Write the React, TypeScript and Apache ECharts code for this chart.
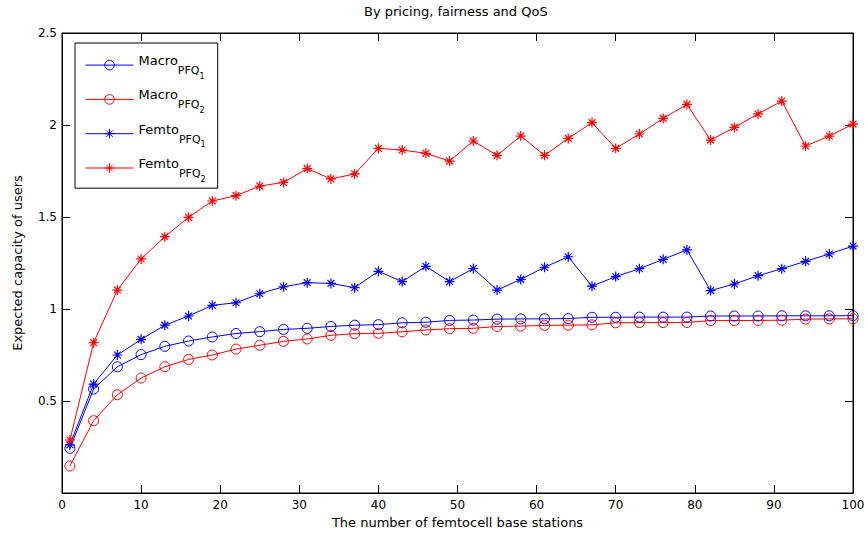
import React, { useEffect, useRef } from 'react';
import * as echarts from 'echarts';

const xValues = [1, 4, 7, 10, 13, 16, 19, 22, 25, 28, 31, 34, 37, 40, 43, 46, 49, 52, 55, 58, 61, 64, 67, 70, 73, 76, 79, 82, 85, 88, 91, 94, 97, 100];

const macroPFQ1 = [0.243, 0.565, 0.686, 0.752, 0.797, 0.826, 0.848, 0.867, 0.877, 0.889, 0.895, 0.905, 0.912, 0.915, 0.925, 0.928, 0.938, 0.94, 0.945, 0.946, 0.947, 0.948, 0.955, 0.955, 0.956, 0.956, 0.956, 0.962, 0.962, 0.962, 0.963, 0.963, 0.963, 0.964];
const macroPFQ2 = [0.147, 0.393, 0.534, 0.625, 0.686, 0.726, 0.75, 0.782, 0.803, 0.824, 0.837, 0.857, 0.866, 0.868, 0.876, 0.886, 0.893, 0.895, 0.905, 0.907, 0.911, 0.912, 0.914, 0.925, 0.926, 0.926, 0.927, 0.937, 0.937, 0.938, 0.939, 0.945, 0.946, 0.947];
const femtoPFQ1 = [0.262, 0.592, 0.75, 0.835, 0.912, 0.962, 1.02, 1.034, 1.083, 1.121, 1.143, 1.139, 1.116, 1.205, 1.149, 1.232, 1.149, 1.22, 1.103, 1.161, 1.227, 1.284, 1.124, 1.176, 1.219, 1.27, 1.321, 1.1, 1.136, 1.181, 1.219, 1.259, 1.299, 1.342];
const femtoPFQ2 = [0.288, 0.817, 1.103, 1.272, 1.393, 1.498, 1.587, 1.616, 1.668, 1.688, 1.763, 1.707, 1.734, 1.873, 1.864, 1.846, 1.804, 1.913, 1.835, 1.94, 1.835, 1.927, 2.013, 1.873, 1.951, 2.036, 2.112, 1.918, 1.987, 2.06, 2.13, 1.886, 1.94, 2.005];

const seriesNames = ['Macro PFQ1', 'Macro PFQ2', 'Femto PFQ1', 'Femto PFQ2'];
const seriesData = [macroPFQ1, macroPFQ2, femtoPFQ1, femtoPFQ2];
const seriesColors = ['#0000FF', '#FF0000', '#0000FF', '#FF0000'];
const seriesMarkers = ['circle', 'circle', 'star', 'star'];

const chartTitle = 'By pricing, fairness and QoS';
const xTitle = 'The number of femtocell base stations';
const yTitle = 'Expected capacity of users';

const FONT = 'DejaVu Sans';
const STAR = 'path://M5,0L5,10M0,5L10,5M1.6,1.6L8.4,8.4M1.6,8.4L8.4,1.6';

export default function App() {
  const ref = useRef<HTMLDivElement>(null);

  useEffect(() => {
    if (!ref.current) return;
    const chart = echarts.init(ref.current, null, { renderer: 'svg' });

    const series = seriesNames.map((name, k) => {
      const color = seriesColors[k];
      const isCircle = seriesMarkers[k] === 'circle';
      return {
        name,
        type: 'line',
        data: xValues.map((x, i) => [x, seriesData[k][i]]),
        symbol: isCircle ? 'circle' : STAR,
        symbolSize: 10,
        showSymbol: true,
        showAllSymbol: true,
        lineStyle: { color, width: 1 },
        itemStyle: isCircle
          ? { color: 'rgba(255,255,255,0)', borderColor: color, borderWidth: 1 }
          : { color, borderColor: color, borderWidth: 1.2 },
        emphasis: { disabled: true },
        xAxisIndex: 0,
        yAxisIndex: 0,
      };
    });

    const tickStyle = { inside: true, length: 8, lineStyle: { color: '#000', width: 1 } };
    const lineStyle = { show: true, onZero: false, lineStyle: { color: '#000', width: 1 } };

    chart.setOption({
      animation: false,
      backgroundColor: '#fff',
      textStyle: { fontFamily: FONT, color: '#000' },
      title: {
        text: chartTitle,
        left: 364,
        top: 5,
        padding: 0,
        textStyle: { fontFamily: FONT, fontSize: 13, fontWeight: 'normal', color: '#000' },
      },
      grid: {
        left: 62,
        right: 15,
        top: 33,
        bottom: 43,
        show: true,
        borderColor: '#000',
        borderWidth: 1,
        backgroundColor: '#fff',
      },
      legend: {
        orient: 'vertical',
        left: 75,
        top: 43,
        padding: [11, 12, 5, 10],
        itemWidth: 48,
        itemHeight: 12,
        itemGap: 8,
        backgroundColor: '#fff',
        borderColor: '#000',
        borderWidth: 1,
        borderRadius: 0,
        selectedMode: false,
        itemStyle: { borderWidth: 1 },
        lineStyle: { width: 1 },
        data: seriesNames,
        formatter: (name: string) => {
          const parts = name.split(' ');
          const sub = parts[1];
          return `{m|${parts[0]}}{s|${sub.slice(0, 3)}}{t|${sub.slice(3)}}`;
        },
        textStyle: {
          fontFamily: FONT,
          color: '#000',
          rich: {
            m: { fontFamily: FONT, fontSize: 13, color: '#000', height: 16, padding: [2.6, 0, 0, 0], verticalAlign: 'top' },
            s: { fontFamily: FONT, fontSize: 11, color: '#000', height: 12, padding: [14.8, 0, 0, 0], verticalAlign: 'top' },
            t: { fontFamily: FONT, fontSize: 8, color: '#000', height: 8, padding: [22.4, 0, 0, 0], verticalAlign: 'top' },
          },
        },
      },
      xAxis: [
        {
          type: 'value',
          min: 0,
          max: 100,
          interval: 10,
          position: 'bottom',
          name: xTitle,
          nameLocation: 'middle',
          nameGap: 23,
          nameTextStyle: { fontFamily: FONT, fontSize: 13, color: '#000' },
          axisLine: lineStyle,
          axisTick: tickStyle,
          axisLabel: { fontFamily: FONT, fontSize: 12, color: '#000', margin: 6 },
          splitLine: { show: false },
        },
        {
          type: 'value',
          min: 0,
          max: 100,
          interval: 10,
          position: 'top',
          axisLine: lineStyle,
          axisTick: tickStyle,
          axisLabel: { show: false },
          splitLine: { show: false },
        },
      ],
      yAxis: [
        {
          type: 'value',
          min: 0,
          max: 2.5,
          interval: 0.5,
          position: 'left',
          name: yTitle,
          nameLocation: 'middle',
          nameGap: 38,
          nameTextStyle: { fontFamily: FONT, fontSize: 13, color: '#000' },
          axisLine: lineStyle,
          axisTick: tickStyle,
          axisLabel: { fontFamily: FONT, fontSize: 12, color: '#000', margin: 5, showMinLabel: false },
          splitLine: { show: false },
        },
        {
          type: 'value',
          min: 0,
          max: 2.5,
          interval: 0.5,
          position: 'right',
          axisLine: lineStyle,
          axisTick: tickStyle,
          axisLabel: { show: false },
          splitLine: { show: false },
        },
      ],
      series,
    });

    return () => {
      chart.dispose();
    };
  }, []);

  return (
    <div
      ref={ref}
      style={{ position: 'fixed', left: 0, top: 0, width: 868, height: 536, background: '#fff' }}
    />
  );
}
